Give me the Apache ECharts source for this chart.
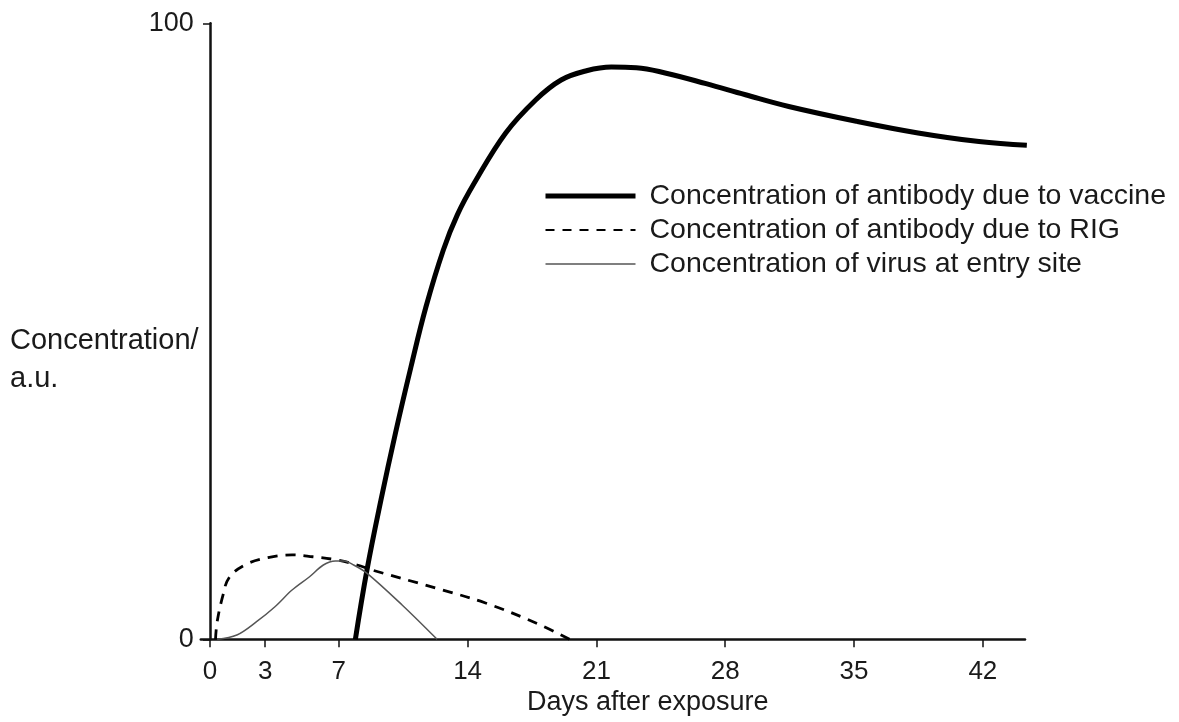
<!DOCTYPE html>
<html>
<head>
<meta charset="utf-8">
<script src="https://cdn.jsdelivr.net/npm/echarts@6/dist/echarts.min.js"></script>
<style>html,body{margin:0;padding:0;background:#fff}#c{width:1179px;height:722px}</style>
</head>
<body>
<div id="c"></div>
<script>
// Tick labels on the x axis (days after exposure)
const xTicks = [0, 3, 7, 14, 21, 28, 35, 42];
// Series: [day, concentration a.u.]
const vaccineDays = [7.9, 8.53, 9.29, 10.08, 10.92, 11.73, 12.68, 13.44, 14.37, 16.07, 17.71, 19.08, 20.46, 21.81, 23.17, 24.79, 26.96, 29.1, 31.45, 35.12, 38.48, 41.79, 44.39];
const vaccineVals = [0, 11.25, 22.6, 33.5, 44.2, 53.9, 63.2, 68.9, 74.1, 82.2, 87.6, 90.8, 92.3, 92.9, 92.8, 91.9, 90.2, 88.4, 86.5, 84.1, 82.2, 80.8, 80.2];
const rigDays = [0.3, 0.39, 0.71, 1.03, 1.89, 3.15, 4.46, 5.59, 6.91, 8.0, 8.81, 12.25, 14.97, 17.71, 19.54];
const rigVals = [0, 2.86, 7.2, 9.95, 12.06, 13.25, 13.7, 13.4, 12.87, 12.06, 11.25, 8.33, 5.89, 2.65, 0];
const virusDays = [0.39, 1.46, 2.53, 3.53, 4.46, 5.41, 6.16, 6.81, 7.27, 7.81, 8.54, 10.44, 12.34];
const virusVals = [0, 0.7, 2.86, 5.29, 8.0, 10.16, 12.06, 12.71, 12.71, 12.06, 10.71, 5.57, 0];
const seriesNames = ['Concentration of antibody due to vaccine', 'Concentration of antibody due to RIG', 'Concentration of virus at entry site'];

const zip = (a, b) => a.map((v, i) => [v, b[i]]);
const FONT = 'Liberation Sans, Arial, sans-serif';
const TXT = '#1a1a1a';

const chart = echarts.init(document.getElementById('c'));
chart.setOption({
  backgroundColor: '#fff',
  animation: false,
  grid: { left: 200.8, right: 154, top: 23.3, bottom: 82.7, containLabel: false },
  xAxis: {
    type: 'value', min: -0.5, max: 44.29,
    splitLine: { show: false },
    axisLine: { onZero: true, lineStyle: { color: '#111', width: 2.5 } },
    axisTick: { show: true, customValues: xTicks, length: 8, lineStyle: { color: '#111', width: 1.5 } },
    axisLabel: { customValues: xTicks, margin: 20, fontSize: 26, color: TXT, fontFamily: FONT }
  },
  yAxis: {
    type: 'value', min: 0, max: 100, interval: 100,
    splitLine: { show: false },
    axisLine: { show: true, onZero: true, lineStyle: { color: '#111', width: 2.5 } },
    axisTick: { show: true, length: 7, lineStyle: { color: '#111', width: 1.5 } },
    axisLabel: { margin: 7, fontSize: 27, color: TXT, fontFamily: FONT }
  },
  legend: {
    orient: 'vertical', left: 543, top: 181.5, padding: 0, itemWidth: 90, itemHeight: 14, itemGap: 5,
    itemStyle: { opacity: 0 },
    textStyle: { fontSize: 28.5, color: TXT, fontFamily: FONT, padding: [0, 0, 0, 9] },
    data: [
      { name: seriesNames[0], lineStyle: { width: 5, color: '#000' } },
      { name: seriesNames[1], lineStyle: { width: 2, color: '#000', type: [9, 8] } },
      { name: seriesNames[2], lineStyle: { width: 1.5, color: '#555' } }
    ]
  },
  graphic: [
    { type: 'text', left: 10, top: 326, style: { text: 'Concentration/', fontSize: 29, fill: TXT, fontFamily: FONT } },
    { type: 'text', left: 10, top: 364, style: { text: 'a.u.', fontSize: 29, fill: TXT, fontFamily: FONT } },
    { type: 'text', left: 527, top: 689, style: { text: 'Days after exposure', fontSize: 27, fill: TXT, fontFamily: FONT } }
  ],
  series: [
    { name: seriesNames[0], type: 'line', data: zip(vaccineDays, vaccineVals), smooth: 0.4, symbol: 'none', clip: false,
      lineStyle: { color: '#000', width: 5 }, itemStyle: { color: '#000' } },
    { name: seriesNames[1], type: 'line', data: zip(rigDays, rigVals), smooth: 0.4, symbol: 'none', clip: false,
      lineStyle: { color: '#000', width: 2.8, type: [10, 8] }, itemStyle: { color: '#000' } },
    { name: seriesNames[2], type: 'line', data: zip(virusDays, virusVals), smooth: 0.35, symbol: 'none', clip: false,
      lineStyle: { color: '#555', width: 1.5 }, itemStyle: { color: '#555' } }
  ]
});
</script>
</body>
</html>
